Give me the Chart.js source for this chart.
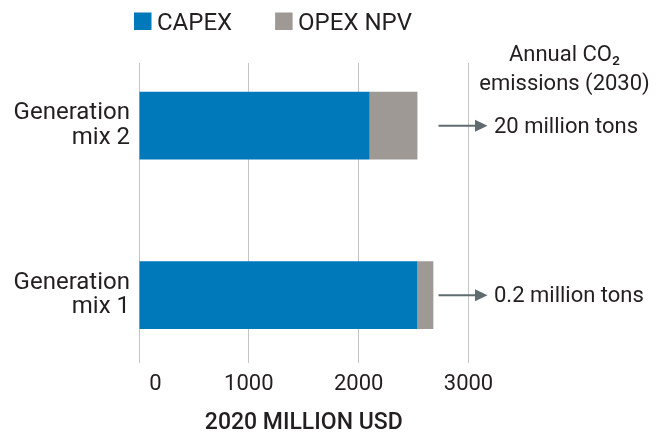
<!DOCTYPE html>
<html>
<head>
<meta charset="utf-8">
<script src="https://cdn.jsdelivr.net/npm/chart.js@4/dist/chart.umd.min.js"></script>
<style>
html,body{margin:0;padding:0;background:#ffffff;}
#wrap{width:662px;height:435px;}
canvas{display:block;}
</style>
</head>
<body>
<div id="wrap"><canvas id="chart" width="662" height="435"></canvas></div>
<script>
// ---- data ----
const categories = ['Generation mix 2', 'Generation mix 1'];
const capex = [2100, 2535];
const opexNpv = [435, 145];
const seriesNames = ['CAPEX', 'OPEX NPV'];
const xTicks = [0, 1000, 2000, 3000];
const xTitle = '2020 MILLION USD';
const emissionsHeader = ['Annual CO\u2082', 'emissions (2030)'];
const emissions = ['20 million tons', '0.2 million tons'];

// ---- styles ----
const FONT = 'Roboto, "Open Sans", "Noto Sans", sans-serif';
const TEXT = '#231f20';
const COLORS = ['#0079ba', '#9e9995'];
const ARROW = '#5f6b6f';

const notesPlugin = {
  id: 'notesPlugin',
  afterDraw(chart) {
    const {ctx, chartArea} = chart;
    ctx.save();
    // legend
    ctx.font = '24px ' + FONT;
    ctx.textAlign = 'left';
    ctx.textBaseline = 'alphabetic';
    let x = chartArea.left - 5;
    chart.data.datasets.forEach(ds => {
      ctx.fillStyle = ds.backgroundColor;
      ctx.fillRect(x, 12.5, 17.5, 17.5);
      ctx.fillStyle = TEXT;
      ctx.fillText(ds.label, x + 23, 29.5);
      x += 23 + ctx.measureText(ds.label).width + 43;
    });
    // header on the right
    const cx = chartArea.right + 96;
    ctx.font = '22px ' + FONT;
    ctx.textAlign = 'center';
    ctx.fillStyle = TEXT;
    ctx.fillText(emissionsHeader[0], cx, 61);
    ctx.fillText(emissionsHeader[1], cx, 90);
    // arrows + values
    const meta = chart.getDatasetMeta(0);
    meta.data.forEach((bar, i) => {
      const y = bar.y;
      const x0 = chartArea.right - 30;
      const tip = chartArea.right + 19;
      const base = chartArea.right + 6.5;
      ctx.strokeStyle = ARROW;
      ctx.lineWidth = 2;
      ctx.beginPath();
      ctx.moveTo(x0, y);
      ctx.lineTo(base + 1, y);
      ctx.stroke();
      ctx.fillStyle = ARROW;
      ctx.beginPath();
      ctx.moveTo(base, y - 6);
      ctx.lineTo(tip, y);
      ctx.lineTo(base, y + 6);
      ctx.closePath();
      ctx.fill();
      ctx.fillStyle = TEXT;
      ctx.textAlign = 'left';
      ctx.textBaseline = 'middle';
      ctx.fillText(emissions[i], chartArea.right + 25.5, y + 1.5);
    });
    ctx.restore();
  }
};

new Chart(document.getElementById('chart'), {
  type: 'bar',
  data: {
    datasets: [
      {label: seriesNames[0], data: capex.map((v, i) => ({x: v, y: i})), backgroundColor: COLORS[0], stack: 'cost'},
      {label: seriesNames[1], data: opexNpv.map((v, i) => ({x: v, y: i})), backgroundColor: COLORS[1], stack: 'cost'}
    ]
  },
  options: {
    indexAxis: 'y',
    responsive: false,
    animation: false,
    devicePixelRatio: 1,
    datasets: {bar: {categoryPercentage: 1, barPercentage: 0.4}},
    layout: {padding: {left: 0, right: 193.5, top: 63, bottom: 0}},
    plugins: {legend: {display: false}, tooltip: {enabled: false}},
    scales: {
      x: {
        type: 'linear',
        stacked: true,
        min: 0,
        max: 3000,
        offset: false,
        afterBuildTicks: s => { s.ticks = xTicks.map(v => ({value: v})); },
        grid: {color: '#c4c4c4', lineWidth: 1, drawTicks: false, offset: false},
        border: {display: false},
        ticks: {
          padding: 8,
          color: TEXT,
          font: {family: FONT, size: 22},
          maxRotation: 0,
          autoSkip: false,
          callback: v => (v === 0 ? '      0' : String(v))
        },
        title: {
          display: true,
          text: xTitle,
          color: TEXT,
          font: {family: FONT, size: 23, weight: '500', lineHeight: 1},
          padding: {top: 6.6, bottom: 0}
        }
      },
      y: {
        type: 'linear',
        reverse: true,
        offset: false,
        min: -0.37,
        max: 1.4,
        afterBuildTicks: s => { s.ticks = categories.map((c, i) => ({value: i})); },
        afterFit: s => { s.width = 139; },
        grid: {display: false, drawTicks: false, offset: false},
        border: {display: false},
        ticks: {
          padding: 9,
          color: TEXT,
          autoSkip: false,
          font: {family: FONT, size: 24, lineHeight: 1.02},
          callback: v => {
            const label = categories[v];
            if (label === undefined) return '';
            const k = label.lastIndexOf(' mix');
            return k > 0 ? [label.slice(0, k), label.slice(k + 1)] : label;
          }
        }
      }
    }
  },
  plugins: [notesPlugin]
});
</script>
</body>
</html>
